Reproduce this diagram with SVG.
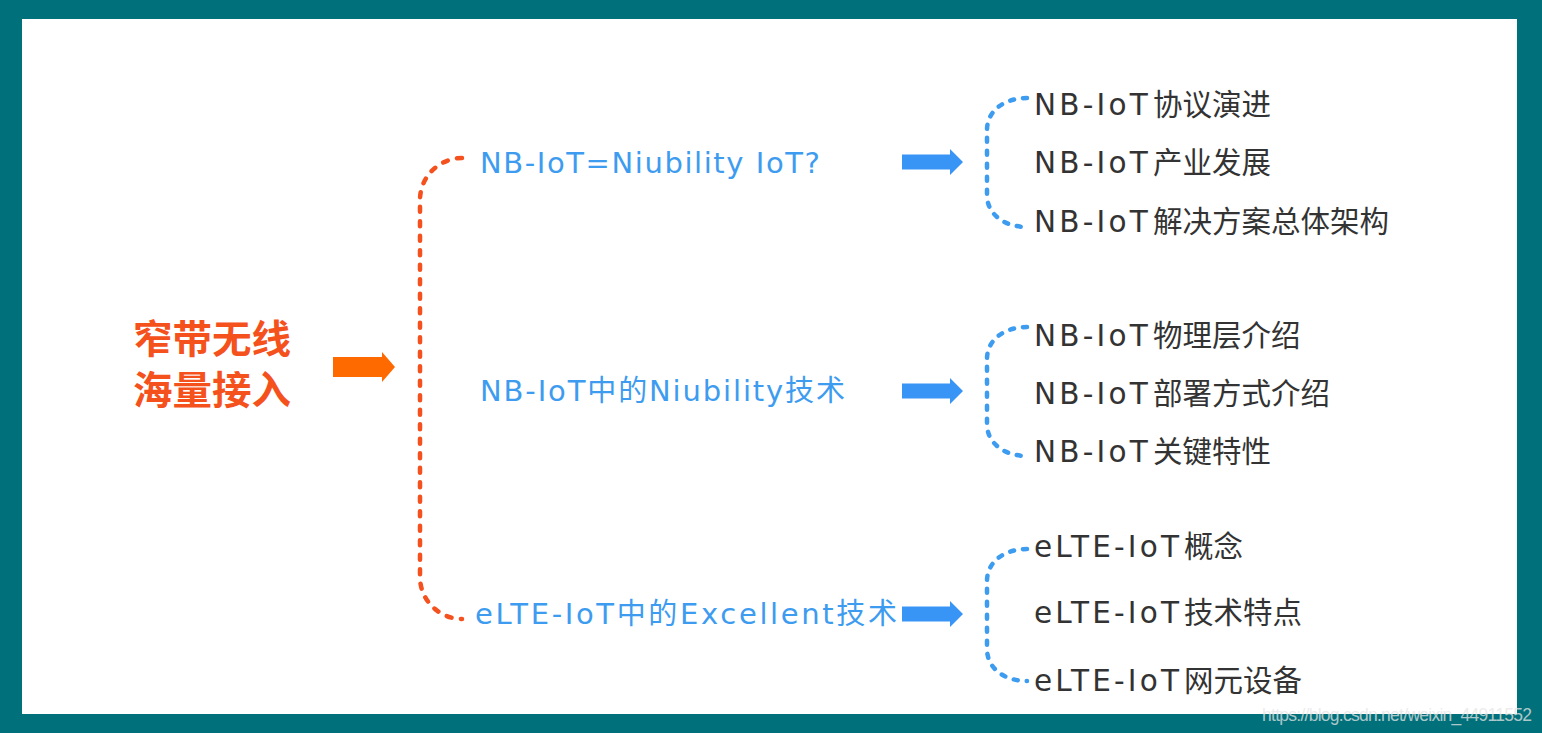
<svg xmlns="http://www.w3.org/2000/svg" width="1542" height="733" viewBox="0 0 1542 733">
<style>
.title{font-family:"Liberation Sans","Noto Sans CJK SC",sans-serif;font-size:39px;font-weight:bold;fill:#f5511d}
.mid{font-family:"DejaVu Sans","Noto Sans CJK SC",sans-serif;font-size:29px;fill:#3d9cf0}
.item{font-family:"DejaVu Sans","Noto Sans CJK SC",sans-serif;font-size:29.5px;fill:#333333}
.lat{letter-spacing:3.2px}
.ob{fill:none;stroke:#f4511e;stroke-width:4.5;stroke-dasharray:5 9.5;stroke-linecap:round}
.bb{fill:none;stroke:#3d9cf0;stroke-width:4.5;stroke-dasharray:4 9;stroke-linecap:round}
.wm{font-family:"Liberation Sans",sans-serif;font-size:17.5px;fill:#e6e6e6;fill-opacity:0.75}
</style>
<defs>
<path id="barrow" d="M0 -7.5 H48 V-13 L61 0 L48 13 V7.5 H0 Z"/>
</defs>
<rect x="0" y="0" width="1542" height="733" fill="#00707a"/>
<rect x="22" y="19" width="1495" height="695" fill="#ffffff"/>

<g id="connectors">
<path d="M333 357 H382 V352 L395 367 L382 382 V377 H333 Z" fill="#ff6a00"/>
<path class="ob" d="M462 158 C440 158 420 176 420 200 V577 C420 601 440 619 462 619"/>
<use href="#barrow" x="902" y="162" fill="#3894f5"/>
<use href="#barrow" x="902" y="391" fill="#3894f5"/>
<use href="#barrow" x="902" y="614" fill="#3894f5"/>
<path class="bb" d="M1027 98 C1004 98 987 111 987 130 V195 C987 214 1004 227 1027 227"/>
<path class="bb" d="M1027 327 C1004 327 987 340 987 359 V424 C987 443 1004 456 1027 456"/>
<path class="bb" d="M1027 549 C1004 549 987 562 987 581 V649 C987 668 1004 681 1027 681"/>
</g>

<g id="root">
<text class="title" x="133" y="353" textLength="158" lengthAdjust="spacingAndGlyphs">窄带无线</text>
<text class="title" x="133" y="404" textLength="158" lengthAdjust="spacingAndGlyphs">海量接入</text>
</g>

<g id="n1"><text class="mid" x="480" y="173" textLength="340" lengthAdjust="spacing">NB-IoT=Niubility IoT?</text></g>
<g id="n2"><text class="mid" x="480" y="401" textLength="365" lengthAdjust="spacing">NB-IoT中的Niubility技术</text></g>
<g id="n3"><text class="mid" x="475" y="624" textLength="422" lengthAdjust="spacing">eLTE-IoT中的Excellent技术</text></g>

<g id="n1a"><text class="item" x="1034" y="115"><tspan class="lat">NB-IoT</tspan><tspan x="1153">协议演进</tspan></text></g>
<g id="n1b"><text class="item" x="1034" y="173"><tspan class="lat">NB-IoT</tspan><tspan x="1153">产业发展</tspan></text></g>
<g id="n1c"><text class="item" x="1034" y="232"><tspan class="lat">NB-IoT</tspan><tspan x="1153">解决方案总体架构</tspan></text></g>

<g id="n2a"><text class="item" x="1034" y="346"><tspan class="lat">NB-IoT</tspan><tspan x="1153">物理层介绍</tspan></text></g>
<g id="n2b"><text class="item" x="1034" y="404"><tspan class="lat">NB-IoT</tspan><tspan x="1153">部署方式介绍</tspan></text></g>
<g id="n2c"><text class="item" x="1034" y="462"><tspan class="lat">NB-IoT</tspan><tspan x="1153">关键特性</tspan></text></g>

<g id="n3a"><text class="item" x="1034" y="557"><tspan class="lat">eLTE-IoT</tspan><tspan x="1184">概念</tspan></text></g>
<g id="n3b"><text class="item" x="1034" y="623"><tspan class="lat">eLTE-IoT</tspan><tspan x="1184">技术特点</tspan></text></g>
<g id="n3c"><text class="item" x="1034" y="691"><tspan class="lat">eLTE-IoT</tspan><tspan x="1184">网元设备</tspan></text></g>

<text class="wm" x="1262" y="721" textLength="270" lengthAdjust="spacing">https://blog.csdn.net/weixin_44911552</text>
</svg>
